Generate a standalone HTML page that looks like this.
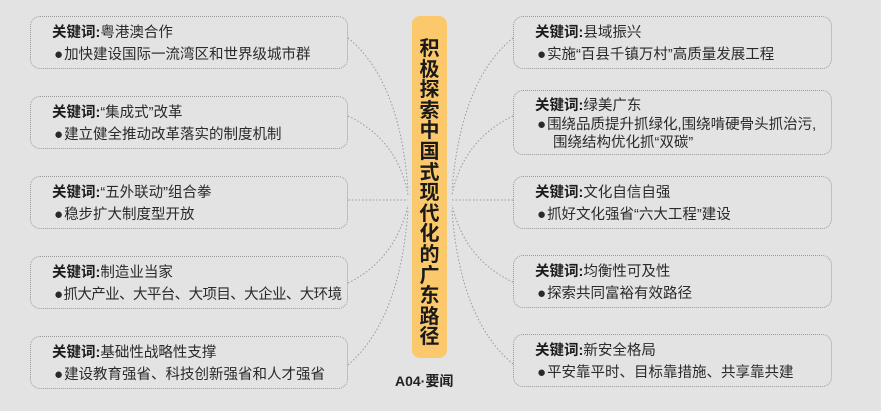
<!DOCTYPE html>
<html><head><meta charset="utf-8"><style>
body{margin:0;width:881px;height:411px;background:#e3e3e3;position:relative;overflow:hidden;font-family:"Liberation Sans","Noto Sans CJK SC",sans-serif;color:#2a2a2a}
.b{position:absolute;border:1px dotted #9a9a9a;border-radius:10px;box-sizing:border-box;font-size:14.5px;line-height:21px;padding:6px 0 0 21px;white-space:nowrap}
.b b{font-weight:bold;color:#1a1a1a}
.b .l{padding-left:2px}
.b i{font-style:normal;font-size:15px;margin-right:1px}
.bar{position:absolute;left:412px;top:16px;width:35px;height:342px;background:#fbc96b;border-radius:8px;font-size:20px;font-weight:bold;line-height:20.6px;text-align:center;padding-top:23px;box-sizing:border-box;color:#1a1a1a}
.tag{position:absolute;left:395px;top:371px;font-size:14px;font-weight:bold;color:#222}
svg{position:absolute;left:0;top:0}
</style></head><body>
<svg width="881" height="411"><g fill="none" stroke="#999" stroke-width="1" stroke-dasharray="1.5 2">
<path d="M348 38 Q400 80 408 190"/>
<path d="M348 116 Q398 140 408 195"/>
<path d="M348 200 Q395 200 408 200"/>
<path d="M348 283 Q395 260 408 205"/>
<path d="M348 365 Q400 320 408 210"/>
<path d="M513 38 Q461 80 452 190"/>
<path d="M513 116 Q463 140 452 195"/>
<path d="M513 200 Q465 200 452 200"/>
<path d="M513 282 Q465 260 452 205"/>
<path d="M513 364 Q460 320 452 210"/>
</g></svg>
<div class="b" style="left:30px;top:16px;width:318px;height:53px"><b>关键词:</b>粤港澳合作<br><span class="l"><i>●</i>加快建设国际一流湾区和世界级城市群</span></div>
<div class="b" style="left:30px;top:96px;width:318px;height:53px"><b>关键词:</b>“集成式”改革<br><span class="l"><i>●</i>建立健全推动改革落实的制度机制</span></div>
<div class="b" style="left:30px;top:176px;width:318px;height:53px"><b>关键词:</b>“五外联动”组合拳<br><span class="l"><i>●</i>稳步扩大制度型开放</span></div>
<div class="b" style="left:30px;top:256px;width:318px;height:53px"><b>关键词:</b>制造业当家<br><span class="l" style="letter-spacing:-0.6px"><i>●</i>抓大产业、大平台、大项目、大企业、大环境</span></div>
<div class="b" style="left:30px;top:336px;width:318px;height:53px"><b>关键词:</b>基础性战略性支撑<br><span class="l"><i>●</i>建设教育强省、科技创新强省和人才强省</span></div>
<div class="b" style="left:513px;top:16px;width:319px;height:53px"><b>关键词:</b>县域振兴<br><span class="l"><i>●</i>实施“百县千镇万村”高质量发展工程</span></div>
<div class="b" style="left:513px;top:90px;width:319px;height:65px;line-height:18.5px;padding-top:6px"><b>关键词:</b>绿美广东<br><span class="l"><i>●</i>围绕品质提升抓绿化,围绕啃硬骨头抓治污,</span><br><span style="padding-left:18px">围绕结构优化抓“双碳”</span></div>
<div class="b" style="left:513px;top:176px;width:319px;height:53px"><b>关键词:</b>文化自信自强<br><span class="l"><i>●</i>抓好文化强省“六大工程”建设</span></div>
<div class="b" style="left:513px;top:255px;width:319px;height:53px"><b>关键词:</b>均衡性可及性<br><span class="l"><i>●</i>探索共同富裕有效路径</span></div>
<div class="b" style="left:513px;top:334px;width:319px;height:53px"><b>关键词:</b>新安全格局<br><span class="l"><i>●</i>平安靠平时、目标靠措施、共享靠共建</span></div>
<div class="bar">积<br>极<br>探<br>索<br>中<br>国<br>式<br>现<br>代<br>化<br>的<br>广<br>东<br>路<br>径</div>
<div class="tag">A04·要闻</div>
</body></html>
